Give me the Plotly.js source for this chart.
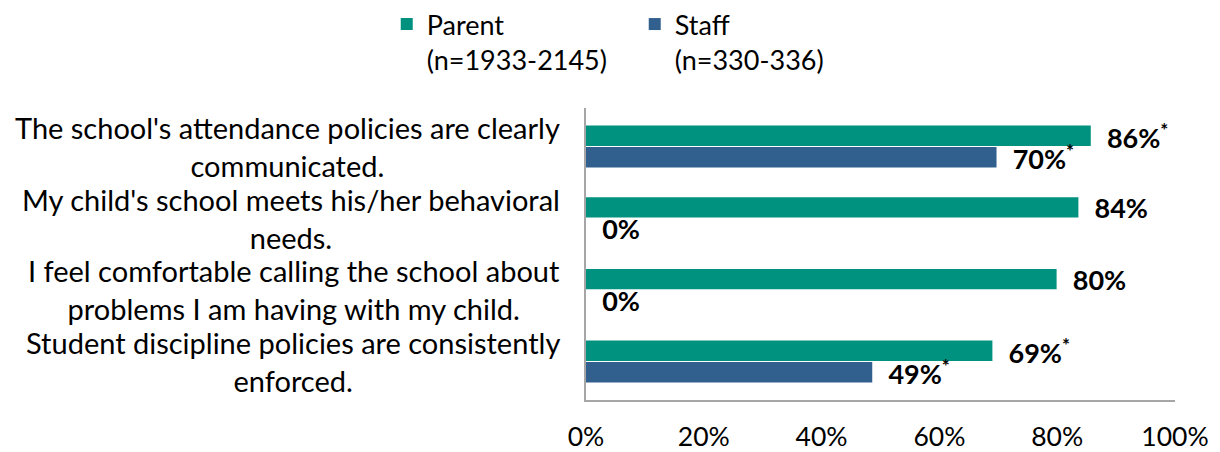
<!DOCTYPE html>
<html>
<head>
<meta charset="utf-8">
<script src="https://cdn.plot.ly/plotly-3.0.1.min.js"></script>
<style>html,body{margin:0;padding:0;background:#fff;}#chart{width:1220px;height:452px;}</style>
</head>
<body>
<div id="chart"></div>
<script>
const categories = [
  "The school's attendance policies are clearly<br>communicated.",
  "My child's school meets his/her behavioral<br>needs.",
  "I feel comfortable calling the school about<br>problems I am having with my child.",
  "Student discipline policies are consistently<br>enforced."
];
const parentValues = [0.857, 0.836, 0.799, 0.690];
const staffValues = [0.697, 0.0, 0.0, 0.486];
const parentSig = ["*", "", "", "*"];
const staffSig = ["*", "", "", "*"];
const seriesNames = ["Parent<br>(n=1933-2145)", "Staff<br>(n=330-336)"];
const xTickVals = [0, 0.2, 0.4, 0.6, 0.8, 1.0];

const pad = "\u00a0\u00a0";
function labels(vals, sig) {
  return vals.map((v, i) => pad + Math.round(v * 100) + "%" + (sig[i] ? "<sup>" + sig[i] + "</sup>" : ""));
}

const FONT = "Lato, 'Open Sans', sans-serif";
const ids = categories.map((c, i) => "c" + i);

const traces = [
  {
    type: "bar", orientation: "h", name: seriesNames[0],
    y: ids, x: parentValues,
    marker: {color: "#00917F", line: {width: 0}},
    text: labels(parentValues, parentSig), textposition: "outside",
    textfont: {family: FONT, size: 27, color: "#000", weight: "bold"},
    constraintext: "none", cliponaxis: false, hoverinfo: "skip"
  },
  {
    type: "bar", orientation: "h", name: seriesNames[1],
    y: ids, x: staffValues,
    marker: {color: "#31608F", line: {width: 0}},
    text: labels(staffValues, staffSig), textposition: "outside",
    textfont: {family: FONT, size: 27, color: "#000", weight: "bold"},
    constraintext: "none", cliponaxis: false, hoverinfo: "skip"
  }
];

const annotations = categories.map((c, i) => ({
  xref: "paper", yref: "y", x: 0, y: ids[i], xanchor: "right", yanchor: "middle",
  xshift: -24, text: c, align: "center", showarrow: false,
  font: {family: FONT, size: 29, color: "#000"}
}));

const layout = {
  width: 1220, height: 452,
  margin: {l: 586, r: 45, t: 108, b: 52, pad: 0},
  paper_bgcolor: "#fff", plot_bgcolor: "#fff",
  barmode: "group", bargap: 0.4, bargroupgap: 0.055,
  showlegend: true,
  legend: {
    orientation: "h", xref: "container", yref: "container",
    x: 0.317, y: 1, xanchor: "left", yanchor: "top",
    valign: "top", entrywidth: 203, entrywidthmode: "pixels",
    font: {family: FONT, size: 27, color: "#000"},
    traceorder: "normal"
  },
  xaxis: {
    range: [0, 1], tickvals: xTickVals, tickformat: ".0%",
    showline: true, linecolor: "#A6A6A6", linewidth: 2,
    showgrid: false, zeroline: false, ticks: "", ticklabelstandoff: 12,
    tickfont: {family: FONT, size: 26.5, color: "#000"}
  },
  yaxis: {
    type: "category", autorange: "reversed",
    showline: true, linecolor: "#A6A6A6", linewidth: 2,
    showgrid: false, zeroline: false, showticklabels: false, ticks: ""
  },
  annotations: annotations
};

Plotly.newPlot("chart", traces, layout, {displayModeBar: false, staticPlot: true});
</script>
</body>
</html>
